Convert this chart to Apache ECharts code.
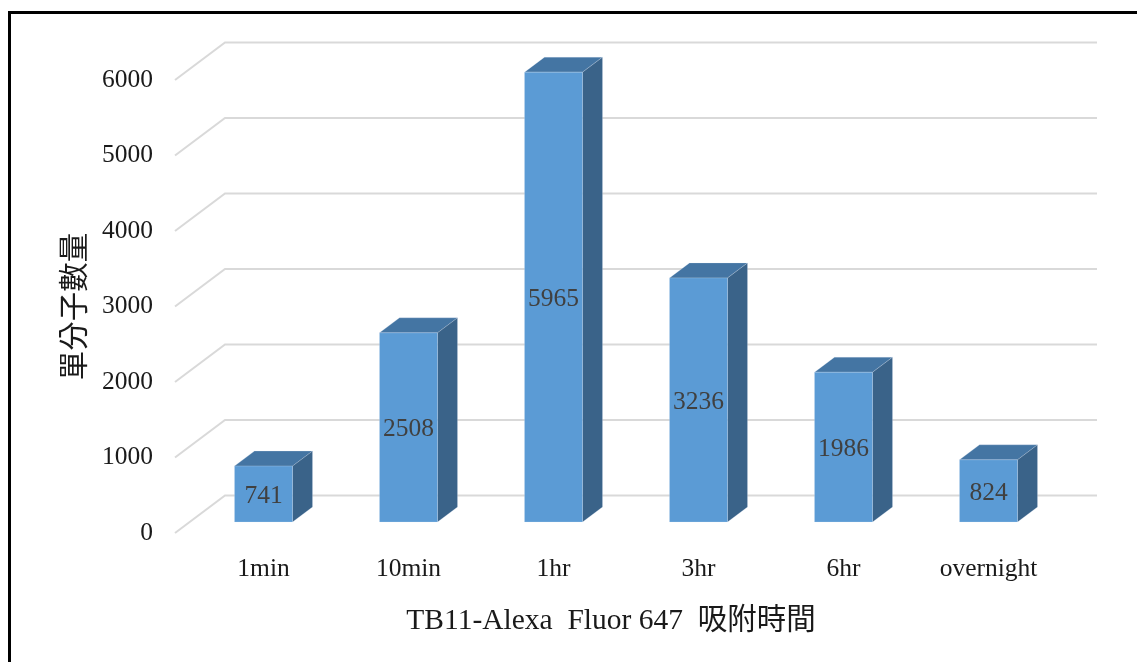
<!DOCTYPE html>
<html lang="zh-Hant">
<head>
    <meta charset="UTF-8">
    <title>TB11-Alexa Fluor 647</title>
    <style>
        html, body {margin: 0; padding: 0; background: #fff}
        #main {width: 1137px; height: 662px}
    </style>
    <script src="https://cdn.jsdelivr.net/npm/echarts@6/dist/echarts.min.js"></script>
</head>
<body>
<div id="main"></div>
<script>
    var categories = ['1min', '10min', '1hr', '3hr', '6hr', 'overnight'];
    var moleculeCounts = [741, 2508, 5965, 3236, 1986, 824];
    var yTicks = [0, 1000, 2000, 3000, 4000, 5000, 6000];

    var serif = '"Liberation Serif", "Noto Sans CJK TC", serif';
    // 3d look: how far the wall and the bars go back
    var wallDx = 50, wallDy = -37.5;
    var barDx = 20, barDy = -15;
    var barRatio = 0.4;

    var myChart = echarts.init(document.getElementById('main'));

    function renderWall(params, api) {
        var p = api.coord([0, api.value(0)]);
        var left = params.coordSys.x;
        var right = left + params.coordSys.width;
        return {
            type: 'polyline',
            shape: {points: [[left, p[1]], [left + wallDx, p[1] + wallDy], [right + wallDx, p[1] + wallDy]]},
            style: {stroke: '#d9d9d9', lineWidth: 2, fill: 'none'}
        };
    }

    function renderBar(params, api) {
        var i = api.value(0);
        var top = api.coord([i, api.value(1)]);
        var base = api.coord([i, 0]);
        var w = api.size([1, 0])[0] * barRatio;
        var x0 = top[0] - w / 2, x1 = top[0] + w / 2;
        var edge = 'rgba(220,232,245,0.35)';
        return {
            type: 'group',
            children: [
                {
                    type: 'polygon',
                    shape: {points: [[x0, top[1]], [x0 + barDx, top[1] + barDy], [x1 + barDx, top[1] + barDy], [x1, top[1]]]},
                    style: {fill: '#4475a3', stroke: edge, lineWidth: 0.6}
                },
                {
                    type: 'polygon',
                    shape: {points: [[x1, top[1]], [x1 + barDx, top[1] + barDy], [x1 + barDx, base[1] + barDy], [x1, base[1]]]},
                    style: {fill: '#3a6389', stroke: edge, lineWidth: 0.6}
                },
                {
                    type: 'rect',
                    shape: {x: x0, y: top[1], width: w, height: base[1] - top[1]},
                    style: {fill: '#5b9bd5', stroke: edge, lineWidth: 0.6}
                },
                {
                    type: 'text',
                    style: {
                        x: top[0],
                        y: (top[1] + base[1]) / 2 + 2,
                        text: String(api.value(1)),
                        align: 'center',
                        verticalAlign: 'middle',
                        font: '25.5px ' + serif,
                        fill: '#404040'
                    }
                }
            ]
        };
    }

    var option = {
        animation: false,
        backgroundColor: '#fff',
        textStyle: {fontFamily: serif},
        // grid 0 is the front of the floor, grid 1 the plane the bars stand on
        grid: [
            {left: 175, top: 80, width: 872, height: 453},
            {left: 191, top: 69.5, width: 870, height: 452.5}
        ],
        xAxis: [
            {
                type: 'category',
                gridIndex: 0,
                data: categories,
                axisLine: {show: false},
                axisTick: {show: false},
                axisLabel: {show: false},
                name: 'TB11-Alexa  Fluor 647  吸附時間',
                nameLocation: 'middle',
                nameGap: 73,
                nameTextStyle: {fontSize: 29.5, color: '#1a1a1a', fontFamily: serif}
            },
            {
                type: 'category',
                gridIndex: 1,
                data: categories,
                axisLine: {show: false},
                axisTick: {show: false},
                axisLabel: {fontSize: 25.5, color: '#1a1a1a', margin: 35, fontFamily: serif}
            }
        ],
        yAxis: [
            {
                type: 'value',
                gridIndex: 0,
                min: 0,
                max: 6000,
                interval: 1000,
                splitLine: {show: false},
                axisLine: {show: false},
                axisTick: {show: false},
                axisLabel: {
                    fontSize: 25.5,
                    color: '#1a1a1a',
                    margin: 22,
                    fontFamily: serif,
                    formatter: function (v) { return String(v); }
                },
                name: '單分子數量',
                nameLocation: 'middle',
                nameRotate: 90,
                nameGap: 83,
                nameTextStyle: {fontSize: 29.5, color: '#1a1a1a', fontFamily: serif}
            },
            {
                type: 'value',
                gridIndex: 1,
                min: 0,
                max: 6000,
                interval: 1000,
                splitLine: {show: false},
                axisLine: {show: false},
                axisTick: {show: false},
                axisLabel: {show: false}
            }
        ],
        series: [
            {
                type: 'custom',
                xAxisIndex: 0,
                yAxisIndex: 0,
                renderItem: renderWall,
                clip: false,
                silent: true,
                z: 1,
                data: yTicks.map(function (v) { return [v]; })
            },
            {
                type: 'custom',
                xAxisIndex: 1,
                yAxisIndex: 1,
                renderItem: renderBar,
                clip: false,
                encode: {x: 0, y: 1},
                z: 2,
                data: moleculeCounts.map(function (v, i) { return [i, v]; })
            }
        ],
        graphic: [{
            // frame of the original figure, open on the right and at the bottom
            type: 'polyline',
            shape: {points: [[9.5, 662], [9.5, 12.5], [1137, 12.5]]},
            style: {stroke: '#000', lineWidth: 3, fill: 'none'}
        }]
    };
    myChart.setOption(option);
</script>
</body>
</html>
